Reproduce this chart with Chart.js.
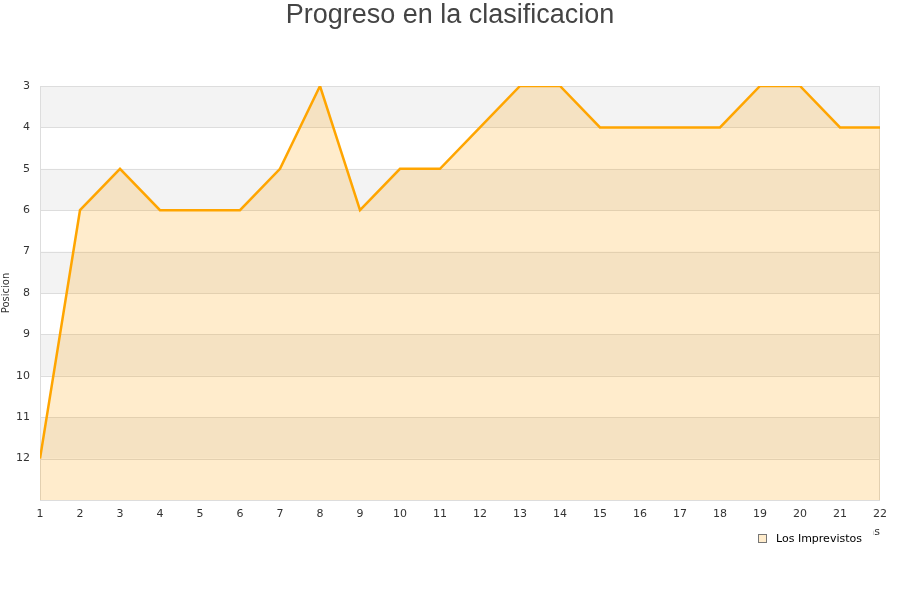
<!DOCTYPE html>
<html><head><meta charset="utf-8">
<script src="https://cdn.jsdelivr.net/npm/chart.js@4"></script>
<style>html,body{margin:0;padding:0;background:#fff}#wrap{width:900px;height:600px}</style>
</head><body><div id="wrap"><canvas id="c" width="900" height="600"></canvas></div>
<script>
const jornadas = [1,2,3,4,5,6,7,8,9,10,11,12,13,14,15,16,17,18,19,20,21,22];
const posiciones = [12,6,5,6,6,6,5,3,6,5,5,4,3,3,4,4,4,4,3,3,4,4];
const yTicks = [3,4,5,6,7,8,9,10,11,12];
const seriesName = 'Los Imprevistos';
const chartTitle = 'Progreso en la clasificacion';
const xTitle = 'Jornadas';
const yTitle = 'Posicion';

const bandsPlugin = {
  id: 'bands',
  beforeDatasetsDraw(chart) {
    const {ctx, chartArea: a, scales: {y}} = chart;
    ctx.save();
    for (let v = 3; v < 13; v += 2) {
      const p1 = y.getPixelForValue(v), p2 = y.getPixelForValue(v + 1);
      ctx.fillStyle = '#f3f3f3';
      ctx.fillRect(a.left, p1, a.right - a.left, p2 - p1);
    }
    ctx.strokeStyle = '#dddddd';
    ctx.lineWidth = 1;
    for (let v = 3; v <= 13; v++) {
      const p = Math.round(y.getPixelForValue(v)) + 0.5;
      ctx.beginPath(); ctx.moveTo(a.left, p); ctx.lineTo(a.right, p); ctx.stroke();
    }
    ctx.strokeRect(a.left + 0.5, a.top + 0.5, a.right - a.left - 1, a.bottom - a.top);
    ctx.restore();
  },
  afterDraw(chart) {
    const {ctx} = chart;
    ctx.save();
    ctx.fillStyle = '#444444';
    ctx.font = '27px "Liberation Sans", Arial, sans-serif';
    ctx.textAlign = 'center'; ctx.textBaseline = 'middle';
    ctx.fillText(chartTitle, 450, 16);
    // x axis title (mostly hidden behind the legend, as in the original)
    ctx.fillStyle = '#333333';
    ctx.font = '11px "DejaVu Sans", sans-serif';
    ctx.textAlign = 'right'; ctx.textBaseline = 'alphabetic';
    ctx.fillText(xTitle, 880, 535);
    // legend
    ctx.fillStyle = '#ffffff';
    ctx.fillRect(750, 526, 123, 26);
    ctx.fillStyle = 'rgba(255,160,0,0.2)';
    ctx.fillRect(758, 534, 8, 8);
    ctx.strokeStyle = '#777777';
    ctx.lineWidth = 1;
    ctx.strokeRect(758.5, 534.5, 8, 8);
    ctx.fillStyle = '#000000';
    ctx.textAlign = 'left'; ctx.textBaseline = 'middle';
    ctx.fillText(seriesName, 776, 539);
    ctx.restore();
  }
};

new Chart(document.getElementById('c'), {
  type: 'line',
  data: {
    datasets: [{
      label: seriesName,
      data: jornadas.map((j, i) => ({x: j, y: posiciones[i]})),
      borderColor: '#ffa500',
      backgroundColor: 'rgba(255,160,0,0.2)',
      borderWidth: 2.5,
      pointRadius: 0,
      tension: 0,
      fill: 'start'
    }]
  },
  options: {
    responsive: false,
    animation: false,
    layout: {padding: {top: 86, right: 20, bottom: 70, left: 0}},
    plugins: {legend: {display: false}, title: {display: false}, tooltip: {enabled: false}},
    scales: {
      x: {
        type: 'linear', min: 1, max: 22,
        grid: {display: false, drawTicks: false},
        border: {display: false},
        ticks: {stepSize: 1, color: '#333333', padding: 8, font: {family: 'DejaVu Sans', size: 11}, maxRotation: 0, autoSkip: false},
        afterFit(s) { s.height = 30; }
      },
      y: {
        reverse: true, min: 3, max: 13,
        grid: {display: false, drawTicks: false},
        border: {display: false},
        ticks: {
          stepSize: 1, color: '#333333', padding: 10, font: {family: 'DejaVu Sans', size: 11},
          callback: (v) => yTicks.includes(v) ? String(v) : ''
        },
        title: {display: true, text: yTitle, color: '#333333', font: {family: 'DejaVu Sans', size: 10}, padding: {top: 0, bottom: 0}},
        afterFit(s) { s.width = 40; }
      }
    }
  },
  plugins: [bandsPlugin]
});
</script></body></html>
